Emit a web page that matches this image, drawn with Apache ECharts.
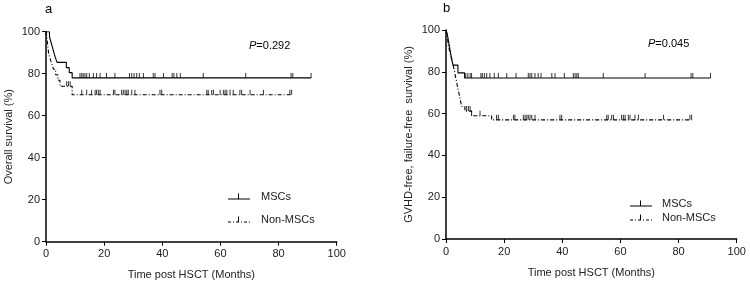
<!DOCTYPE html>
<html>
<head>
<meta charset="utf-8">
<script src="https://cdn.jsdelivr.net/npm/echarts@6/dist/echarts.min.js"></script>
<style>
  html, body { margin: 0; padding: 0; background: #fff; }
  #main { width: 750px; height: 291px; }
</style>
</head>
<body>
<div id="main"></div>
<script>
"use strict";
// Kaplan-Meier steps: [months, survival %]
var osMsc = [[0,100],[1.2,97.6],[1.7,95.1],[2.2,92.7],[2.7,90.2],[3.2,87.8],[3.8,85.4],[7.0,82.9],[8.0,80.5],[9.0,78.0],[91.2,78.0]];
var osNon = [[0,100],[0.3,97.4],[0.5,94.9],[0.7,92.3],[0.9,89.7],[1.4,87.2],[2.0,84.6],[2.6,82.1],[3.3,79.5],[4.1,76.9],[4.8,74.0],[9.0,70.0],[84.5,70.0]];
var gMsc = [[0,100],[0.5,97.6],[0.8,95.2],[1.1,92.8],[1.4,90.4],[1.7,88.0],[2.0,85.6],[2.4,83.2],[4.1,79.5],[6.4,77.0],[91.0,77.0]];
var gNon = [[0,100],[0.4,97.6],[0.6,95.1],[0.8,92.7],[1.2,90.2],[1.6,87.8],[2.1,85.4],[2.5,82.9],[2.9,80.5],[3.2,78.0],[3.6,75.6],[3.9,73.2],[4.3,70.7],[4.7,68.3],[5.0,65.9],[5.4,63.4],[6.5,61.2],[8.8,59.0],[15.7,57.0],[84.5,57.0]];

// censored times (months)
var osMscCens = [11.7,12.3,12.8,13.4,14.0,14.9,16.3,17.4,18.6,20.8,23.7,28.7,29.5,30.3,31.2,32.1,33.5,36.9,37.5,40.4,43.4,44.0,45.0,46.2,54.1,68.7,84.3,84.9,91.2];
var osNonCens = [7.1,7.7,8.3,12.3,14.0,15.7,16.9,17.4,18.0,18.6,23.2,23.7,26.0,26.6,27.2,27.8,28.3,29.5,30.6,39.2,39.8,55.3,55.8,57.0,57.6,59.9,61.0,61.6,62.2,63.3,64.4,66.7,67.3,70.2,74.8,83.9,84.5];
var gMscCens = [6.8,7.5,8.3,8.8,12.0,12.5,13.2,14.0,15.1,16.6,18.0,20.9,24.1,28.3,28.9,29.5,30.6,31.7,32.7,36.4,37.5,40.7,43.8,44.4,45.0,45.5,54.1,68.5,84.3,84.9,91.0];
var gNonCens = [7.1,7.7,8.3,8.8,11.7,17.4,18.0,23.2,23.7,26.6,27.2,27.8,28.3,28.9,29.5,30.6,39.2,39.8,55.3,55.8,57.0,57.6,60.4,61.0,61.6,62.7,63.3,65.0,66.2,74.8,83.9,84.5];

var xTicks = [0, 20, 40, 60, 80, 100];
var yTicks = [0, 20, 40, 60, 80, 100];

// survival value of a step curve at time t
function survAt(curve, t) {
    var v = curve[0][1];
    for (var i = 0; i < curve.length; i++) {
        if (curve[i][0] <= t) v = curve[i][1];
    }
    return v;
}
function censPoints(curve, times) {
    return times.map(function (t) { return [t, survAt(curve, t)]; });
}

var font = 'Liberation Sans, Arial, sans-serif';
var dashType = [4, 2, 1, 2];
var solidIcon = 'path://M0,5L22,5L22,6L0,6Z M10,0L11,0L11,5L10,5Z';
var dashIcon = 'path://M0,5h3v1h-3Z M5,5h1v1h-1Z M8,5h3v1h-3Z M13,5h1v1h-1Z M16,5h3v1h-3Z M21,5h1v1h-1Z M10,0h1v5h-1Z';

function xAxisOf(gi) {
    return {
        gridIndex: gi, type: 'value', min: 0, max: 100, interval: 20,
        name: 'Time post HSCT (Months)', nameLocation: 'middle', nameGap: 28,
        nameTextStyle: { fontFamily: font, fontSize: 11, color: '#222' },
        axisLine: { lineStyle: { color: '#000', width: 1.5 } },
        axisTick: { inside: false, length: 4, lineStyle: { color: '#000' } },
        axisLabel: { margin: 7, fontFamily: font, fontSize: 11, color: '#222',
            formatter: function (v) { return xTicks.indexOf(v) >= 0 ? String(v) : ''; } },
        splitLine: { show: false }
    };
}
function yAxisOf(gi, name, gap) {
    return {
        gridIndex: gi, type: 'value', min: 0, max: 100, interval: 20,
        name: name, nameLocation: 'middle', nameGap: gap, nameRotate: 90,
        nameTextStyle: { fontFamily: font, fontSize: 11, color: '#222' },
        axisLine: { show: true, lineStyle: { color: '#000', width: 1.5 } },
        axisTick: { show: true, length: 4, lineStyle: { color: '#000' } },
        axisLabel: { margin: 6, fontFamily: font, fontSize: 11, color: '#222',
            formatter: function (v) { return yTicks.indexOf(v) >= 0 ? String(v) : ''; } },
        splitLine: { show: false }
    };
}
function kmLine(name, gi, data, dashed) {
    return {
        name: name, type: 'line', xAxisIndex: gi, yAxisIndex: gi,
        step: 'end', symbol: 'none', data: data, silent: true,
        color: '#000',
        lineStyle: { color: '#000', width: 1.1, type: dashed ? dashType : 'solid' }
    };
}
function censMarks(gi, data) {
    return {
        type: 'scatter', xAxisIndex: gi, yAxisIndex: gi, silent: true,
        symbol: 'rect', symbolSize: [1, 5], symbolOffset: [0, -2.5],
        itemStyle: { color: '#000' }, data: data
    };
}

var myChart = echarts.init(document.getElementById('main'));
var option = {
    animation: false,
    backgroundColor: '#fff',
    grid: [
        { left: 46, top: 31.7, width: 290.7, height: 210 },
        { left: 446, top: 30, width: 290.7, height: 209 }
    ],
    xAxis: [xAxisOf(0), xAxisOf(1)],
    yAxis: [yAxisOf(0, 'Overall survival (%)', 32), yAxisOf(1, 'GVHD-free, failure-free  survival (%)', 32)],
    legend: [
        { orient: 'vertical', left: 228, top: 191, padding: 0, itemWidth: 22, itemHeight: 6, itemGap: 12,
          textStyle: { fontFamily: font, fontSize: 11, color: '#222', padding: [0, 0, 0, 6] },
          data: [{ name: 'MSCs', icon: solidIcon }, { name: 'Non-MSCs', icon: dashIcon }] },
        { orient: 'vertical', left: 630, top: 198, padding: 0, itemWidth: 22, itemHeight: 6, itemGap: 3,
          textStyle: { fontFamily: font, fontSize: 11, color: '#222', padding: [0, 0, 0, 5] },
          data: [{ name: 'MSCs', icon: solidIcon }, { name: 'Non-MSCs', icon: dashIcon }] }
    ],
    graphic: [
        { type: 'text', left: 45, top: 3, style: { text: 'a', fontFamily: font, fontSize: 13, fill: '#000' } },
        { type: 'text', left: 443, top: 2, style: { text: 'b', fontFamily: font, fontSize: 13, fill: '#000' } },
        { type: 'text', left: 249, top: 40, style: { text: '{i|P}=0.292', fontFamily: font, fontSize: 11, fill: '#000',
            rich: { i: { fontStyle: 'italic', fontFamily: font, fontSize: 11 } } } },
        { type: 'text', left: 648, top: 38, style: { text: '{i|P}=0.045', fontFamily: font, fontSize: 11, fill: '#000',
            rich: { i: { fontStyle: 'italic', fontFamily: font, fontSize: 11 } } } }
    ],
    series: [
        kmLine('MSCs', 0, osMsc, false),
        kmLine('Non-MSCs', 0, osNon, true),
        censMarks(0, censPoints(osMsc, osMscCens)),
        censMarks(0, censPoints(osNon, osNonCens)),
        kmLine('MSCs', 1, gMsc, false),
        kmLine('Non-MSCs', 1, gNon, true),
        censMarks(1, censPoints(gMsc, gMscCens)),
        censMarks(1, censPoints(gNon, gNonCens))
    ]
};
myChart.setOption(option);

window.onresize = function () {
    myChart.resize();
};
</script>
</body>
</html>
